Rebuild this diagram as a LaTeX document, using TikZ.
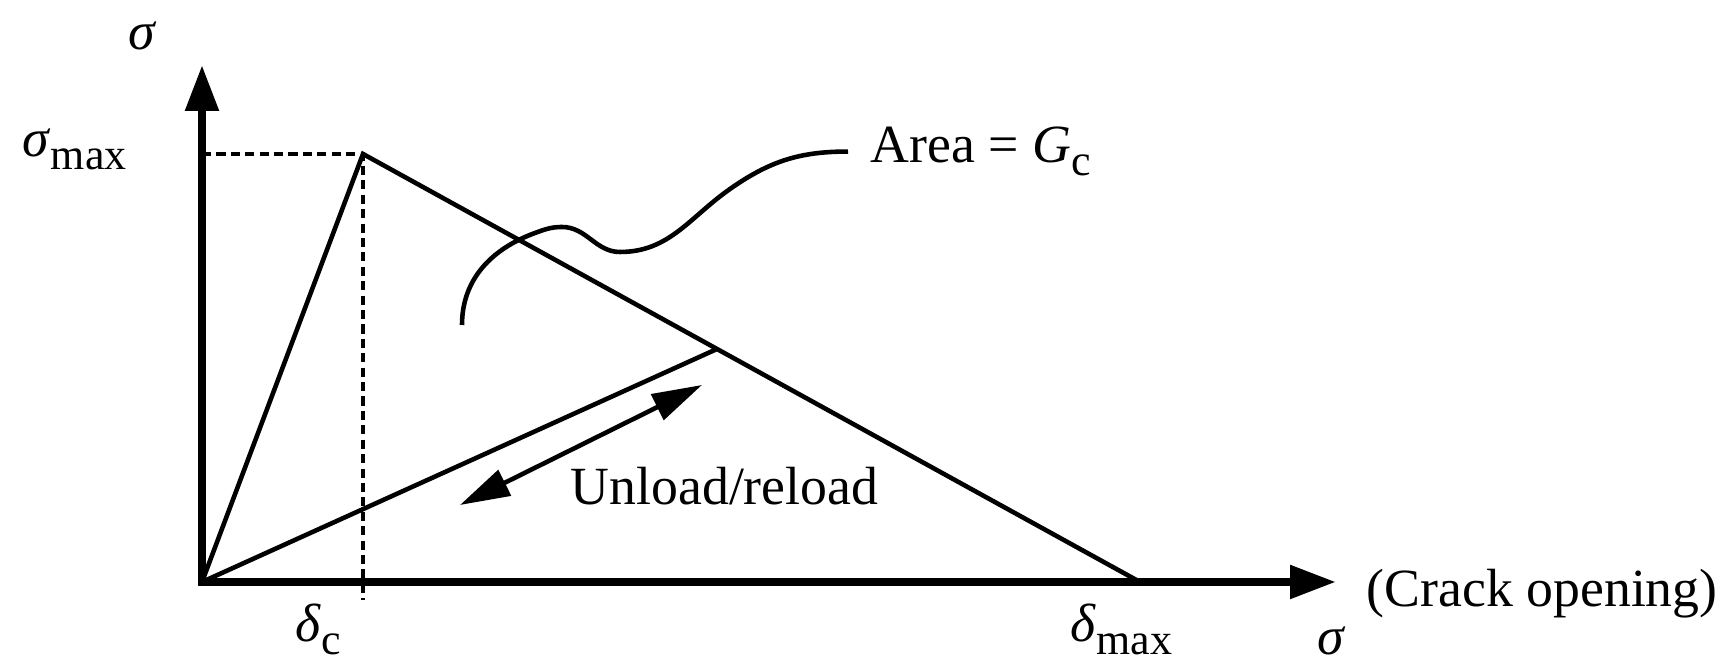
\documentclass[tikz,border=0pt]{standalone}
\usepackage{fontspec}
\setmainfont{Liberation Serif}
\usetikzlibrary{arrows.meta}
\newcommand{\lowidx}[1]{\raisebox{-3.5pt}{\fontsize{12.5}{14}\selectfont #1}}

\begin{document}
\begin{tikzpicture}[font=\fontsize{15.3}{18}\selectfont,
  axis/.style={line width=2.4pt, line cap=rect, -{Triangle[length=4.6mm, width=3.2mm]}},
  law/.style={line width=1.3pt},
  guide/.style={line width=1.1pt, dash pattern=on 2.6pt off 1.5pt},
  twoway/.style={line width=1.3pt, {Triangle[length=5mm, width=2.8mm]}-{Triangle[length=5mm, width=2.8mm]}},
  lbl/.style={inner sep=0pt, anchor=base west}]
  \useasboundingbox (0,0) rectangle (17.25,6.62);
  % points of the law
  \coordinate (O) at (2.02,0.80);
  \coordinate (ytip) at (2.02,5.97);
  \coordinate (xtip) at (13.36,0.80);
  \coordinate (peak) at (3.63,5.08);
  \coordinate (dmax) at (11.40,0.80);
  \coordinate (unl) at (7.17,3.13);
  \coordinate (foot) at (3.63,0.62);
  \coordinate (lo) at (4.60,1.57);
  \coordinate (hi) at (7.02,2.77);
  \coordinate (start) at (4.62,3.37);
  % axes
  \draw[axis] (O) -- (ytip);
  \draw[axis] (O) -- (xtip);
  \draw[guide] (O |- peak) -- (peak) -- (foot);
  % traction--separation
  \draw[law] (O) -- (peak) -- (dmax);
  \draw[law] (O) -- (unl);
  \draw[twoway] (lo) -- (hi);
  % labels
  \node[lbl] (sigtop) at (1.28,6.12) {\textit{σ}};
  \node[lbl] (smax) at (0.22,5.05) {\textit{σ}\lowidx{max}};
  \node[lbl] (dc) at (2.95,0.20) {\textit{δ}\lowidx{c}};
  \node[lbl] (dm) at (10.70,0.20) {\textit{δ}\lowidx{max}};
  \node[lbl] (sigx) at (13.17,0.07) {\textit{σ}};
  \node[lbl] (crack) at (13.66,0.55) {(Crack opening)};
  \node[lbl] (ur) at (5.70,1.57) {Unload/reload};
  \node[lbl] (area) at (8.70,4.99) {Area = \textit{G}\lowidx{c}};
  % leader to the area label
  \draw[law] (start) to[out=90, in=200] (5.35,4.29)
    to[out=20, in=180] (5.62,4.35)
    to[out=0, in=180] (6.20,4.10)
    to[out=0, in=215] (7.30,4.73)
    to[out=35, in=180] ([xshift=-2.2mm]area.west);
\end{tikzpicture}
\end{document}
